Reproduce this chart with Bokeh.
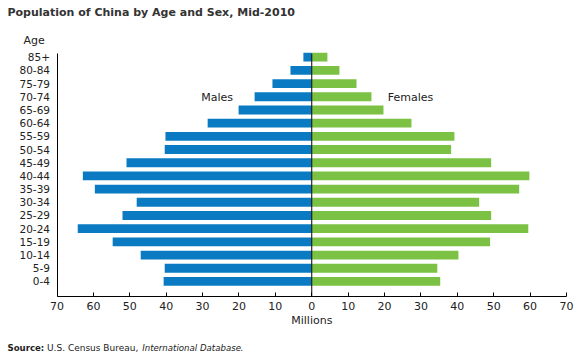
from bokeh.plotting import figure
from bokeh.models import ColumnDataSource, Label, FixedTicker, Range1d
from bokeh.embed import file_html
from bokeh.resources import INLINE

ages = ["0-4", "5-9", "10-14", "15-19", "20-24", "25-29", "30-34", "35-39", "40-44",
        "45-49", "50-54", "55-59", "60-64", "65-69", "70-74", "75-79", "80-84", "85+"]
males = [40.7, 40.4, 47.0, 54.7, 64.3, 52.0, 48.1, 59.6, 62.9,
         50.9, 40.4, 40.2, 28.6, 20.1, 15.7, 10.8, 5.85, 2.3]
females = [35.3, 34.5, 40.3, 49.0, 59.5, 49.3, 46.0, 57.0, 59.8,
           49.3, 38.3, 39.2, 27.4, 19.7, 16.4, 12.3, 7.6, 4.3]
x_ticks = [-70, -60, -50, -40, -30, -20, -10, 0, 10, 20, 30, 40, 50, 60, 70]

BLUE = "#0a7bc2"
GREEN = "#7bc143"
FONT = "DejaVu Sans"
W, H = 579, 358

# pixel <-> data mapping for the full-canvas frame
XPX = 509.5 / 140.0          # px per million
X0 = -70 - 56.5 / XPX        # data x at left canvas edge
YPX = 13.19                  # px per age row
Y_TOP = 17 + 56.7 / YPX      # data y at top canvas edge


def px(xp):
    return X0 + xp / XPX


def py(yp):
    return Y_TOP - yp / YPX


AX_Y = py(296)     # x-axis location
TOP_Y = py(53)     # top of plot area

idx = list(range(len(ages)))
src = ColumnDataSource(dict(
    y=idx,
    mleft=[-m for m in males],
    fright=females,
))

p = figure(width=W, height=H, output_backend="svg", toolbar_location=None,
           x_range=Range1d(px(0), px(W)), y_range=Range1d(py(H), py(0)),
           min_border=0, min_border_left=0, min_border_right=0,
           min_border_top=0, min_border_bottom=0)
p.outline_line_color = None
p.background_fill_color = "white"
p.border_fill_color = "white"
p.grid.visible = False

p.hbar(y="y", left="mleft", right=0, height=0.67, source=src, color=BLUE, line_color=None)
p.hbar(y="y", left=0, right="fright", height=0.67, source=src, color=GREEN, line_color=None)

# zero line
p.segment(x0=[0], y0=[AX_Y], x1=[0], y1=[TOP_Y], line_color="black", line_width=1)

xa = p.xaxis[0]
xa.fixed_location = AX_Y
xa.bounds = (-70, 70)
xa.ticker = FixedTicker(ticks=x_ticks)
xa.major_label_overrides = {t: str(abs(t)) for t in x_ticks}
xa.major_tick_in = 4
xa.major_tick_out = 0
xa.minor_tick_line_color = None
xa.axis_line_color = "black"
xa.major_tick_line_color = "black"
xa.major_label_text_font = FONT
xa.major_label_text_font_size = "11px"
xa.major_label_text_color = "#222222"
xa.major_label_standoff = 5

ya = p.yaxis[0]
ya.fixed_location = -70
ya.bounds = (AX_Y, TOP_Y)
ya.ticker = FixedTicker(ticks=idx)
ya.major_label_overrides = {i: a for i, a in zip(idx, ages)}
ya.major_tick_line_color = None
ya.minor_tick_line_color = None
ya.major_tick_in = 0
ya.major_tick_out = 0
ya.axis_line_color = "black"
ya.major_label_text_font = FONT
ya.major_label_text_font_size = "10.5px"
ya.major_label_text_color = "#222222"
ya.major_label_standoff = 7


def lab(xp, yp, text, size, style="normal", align="left", color="#222222"):
    p.add_layout(Label(x=px(xp), y=py(yp), text=text, text_font=FONT, text_font_size=size,
                       text_font_style=style, text_align=align, text_baseline="middle",
                       text_color=color))


lab(7, 12, "Population of China by Age and Sex, Mid-2010", "11px", "bold", color="#333333")
lab(23, 40, "Age", "11px")
lab(216.7, 97, "Males", "11px", align="center")
lab(410, 97, "Females", "11px", align="center")
lab(311.3, 320, "Millions", "11px", align="center")
lab(7, 347, "Source:", "8.6px", "bold")
lab(46.5, 347, "U.S. Census Bureau,", "9px")
lab(141.7, 347, "International Database", "8.6px", "italic")
lab(239.8, 347, ".", "9px")

open("out.html", "w").write(file_html(p, INLINE))
